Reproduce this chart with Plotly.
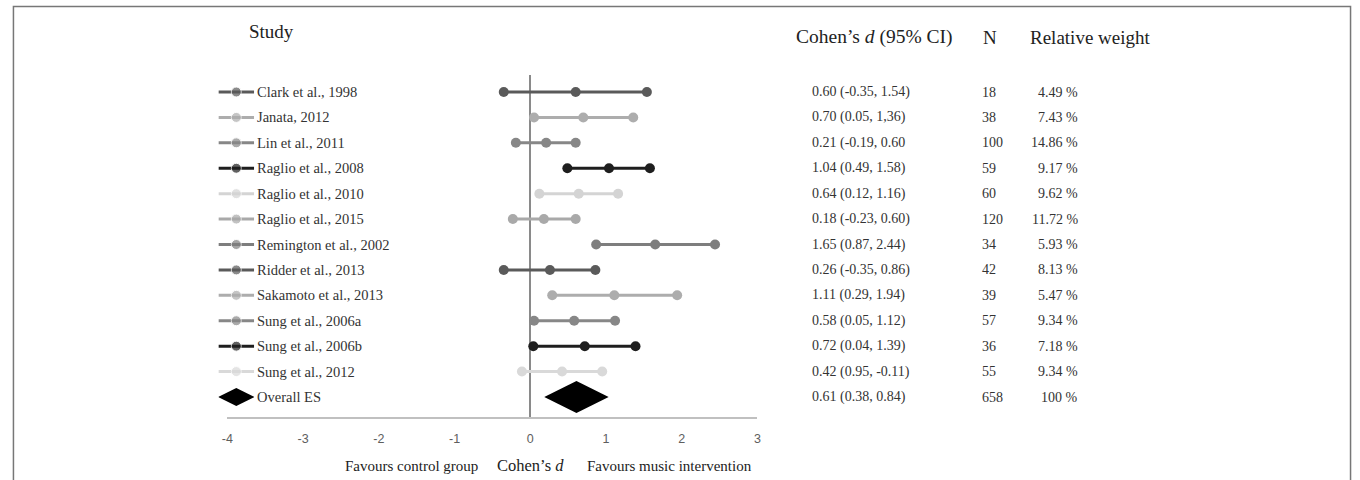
import plotly.graph_objects as go

W, H = 1360, 480

studies = ["Clark et al., 1998", "Janata, 2012", "Lin et al., 2011", "Raglio et al., 2008",
           "Raglio et al., 2010", "Raglio et al., 2015", "Remington et al., 2002",
           "Ridder et al., 2013", "Sakamoto et al., 2013", "Sung et al., 2006a",
           "Sung et al., 2006b", "Sung et al., 2012"]
est = [0.60, 0.70, 0.21, 1.04, 0.64, 0.18, 1.65, 0.26, 1.11, 0.58, 0.72, 0.42]
lo = [-0.35, 0.05, -0.19, 0.49, 0.12, -0.23, 0.87, -0.35, 0.29, 0.05, 0.04, -0.11]
hi = [1.54, 1.36, 0.60, 1.58, 1.16, 0.60, 2.44, 0.86, 1.94, 1.12, 1.39, 0.95]
ci_text = ["0.60 (-0.35, 1.54)", "0.70 (0.05, 1,36)", "0.21 (-0.19, 0.60", "1.04 (0.49, 1.58)",
           "0.64 (0.12, 1.16)", "0.18 (-0.23, 0.60)", "1.65 (0.87, 2.44)", "0.26 (-0.35, 0.86)",
           "1.11 (0.29, 1.94)", "0.58 (0.05, 1.12)", "0.72 (0.04, 1.39)", "0.42 (0.95, -0.11)"]
n_vals = [18, 38, 100, 59, 60, 120, 34, 42, 39, 57, 36, 55]
weights = ["4.49 %", "7.43 %", "14.86 %", "9.17 %", "9.62 %", "11.72 %", "5.93 %",
           "8.13 %", "5.47 %", "9.34 %", "7.18 %", "9.34 %"]
colors = ["#5a5a5a", "#adadad", "#878787", "#1e1e1e", "#d4d4d4", "#a9a9a9",
          "#7e7e7e", "#5a5a5a", "#adadad", "#878787", "#1e1e1e", "#d9d9d9"]

overall_label = "Overall ES"
overall_est = 0.61
overall_ci_text = "0.61 (0.38, 0.84)"
overall_n = 658
overall_weight = "100 %"

x_ticks = [-4, -3, -2, -1, 0, 1, 2, 3]
x_ticktext = ["-4", "-3", "-2", "-1", "0", "1", "2", "3"]

SERIF = "Liberation Serif"
SANS = "Liberation Sans"


def px(x):
    return x / W


def py(y):
    return 1 - y / H


fig = go.Figure()

overall_row = len(studies)

for i, s in enumerate(studies):
    fig.add_trace(go.Scatter(
        x=[lo[i], est[i], hi[i]], y=[i, i, i], mode="lines+markers",
        line=dict(color=colors[i], width=3), marker=dict(color=colors[i], size=10),
        showlegend=False, hoverinfo="skip", xaxis="x", yaxis="y"))
    # legend-like key on the left
    fig.add_trace(go.Scatter(
        x=[0, 1, 2], y=[i, i, i], mode="lines+markers",
        line=dict(color=colors[i], width=3), marker=dict(color=colors[i], size=[0, 10, 0]),
        showlegend=False, hoverinfo="skip", xaxis="x2", yaxis="y"))

fig.add_trace(go.Scatter(
    x=[overall_est], y=[overall_row], mode="markers",
    marker=dict(symbol="diamond-wide", color="black", size=46, line=dict(width=0)),
    showlegend=False, hoverinfo="skip", xaxis="x", yaxis="y"))
fig.add_trace(go.Scatter(
    x=[1], y=[overall_row], mode="markers",
    marker=dict(symbol="diamond-wide", color="black", size=26, line=dict(width=0)),
    showlegend=False, hoverinfo="skip", xaxis="x2", yaxis="y"))

annotations = []
labels = studies + [overall_label]
cis = ci_text + [overall_ci_text]
ns = n_vals + [overall_n]
ws = weights + [overall_weight]
TXT = "#333333"
for i in range(len(labels)):
    annotations.append(dict(x=px(251), y=i, xref="paper", yref="y", text=labels[i],
                            showarrow=False, xanchor="left", yanchor="middle",
                            font=dict(family=SERIF, size=14.5, color=TXT)))
    annotations.append(dict(x=px(810), y=i, xref="paper", yref="y", text=cis[i],
                            showarrow=False, xanchor="left", yanchor="middle",
                            font=dict(family=SERIF, size=14, color=TXT)))
    annotations.append(dict(x=px(981), y=i, xref="paper", yref="y", text=str(ns[i]),
                            showarrow=False, xanchor="left", yanchor="middle",
                            font=dict(family=SERIF, size=14, color=TXT)))
    annotations.append(dict(x=px(1082), y=i, xref="paper", yref="y", text=ws[i],
                            showarrow=False, xanchor="right", yanchor="middle",
                            font=dict(family=SERIF, size=14, color=TXT)))

# headers
HDR = "#222222"
annotations += [
    dict(x=px(243), y=py(32), xref="paper", yref="paper", text="Study", showarrow=False,
         xanchor="left", yanchor="middle", font=dict(family=SERIF, size=19, color=HDR)),
    dict(x=px(794), y=py(37), xref="paper", yref="paper", text="Cohen’s <i>d</i> (95% CI)",
         showarrow=False, xanchor="left", yanchor="middle",
         font=dict(family=SERIF, size=19.5, color=HDR)),
    dict(x=px(982), y=py(37), xref="paper", yref="paper", text="N", showarrow=False,
         xanchor="left", yanchor="middle", font=dict(family=SERIF, size=19, color=HDR)),
    dict(x=px(1030), y=py(37), xref="paper", yref="paper", text="Relative weight",
         showarrow=False, xanchor="left", yanchor="middle",
         font=dict(family=SERIF, size=19, color=HDR)),
    dict(x=px(408), y=py(466), xref="paper", yref="paper", text="Favours control group",
         showarrow=False, xanchor="center", yanchor="middle",
         font=dict(family=SERIF, size=15, color=HDR)),
    dict(x=px(528), y=py(465), xref="paper", yref="paper", text="Cohen’s <i>d</i>",
         showarrow=False, xanchor="center", yanchor="middle",
         font=dict(family=SERIF, size=16.5, color=HDR)),
    dict(x=px(668), y=py(466), xref="paper", yref="paper", text="Favours music intervention",
         showarrow=False, xanchor="center", yanchor="middle",
         font=dict(family=SERIF, size=15, color=HDR)),
]

# y mapping: row 0 at pixel 92, spacing ~25.4; plot top 75, bottom 417
spacing = (397 - 92) / 12
y_top = (75 - 92) / spacing
y_bot = (417 - 92) / spacing

fig.update_layout(
    width=W, height=H,
    margin=dict(l=0, r=0, t=0, b=0),
    paper_bgcolor="white", plot_bgcolor="white",
    showlegend=False,
    annotations=annotations,
    xaxis=dict(domain=[px(223), px(757)], range=[-4, 3], tickvals=x_ticks,
               ticktext=x_ticktext,
               showgrid=False, zeroline=True, zerolinecolor="#8a8a8a", zerolinewidth=1.5,
               showline=True, linecolor="#c0c0c0", linewidth=1.5,
               ticks="outside", ticklen=9, tickcolor="rgba(0,0,0,0)",
               tickfont=dict(family=SANS, size=12.5, color="#5e5e5e"),
               anchor="y", fixedrange=True),
    xaxis2=dict(domain=[px(214), px(250)], range=[0, 2], visible=False, anchor="y",
                fixedrange=True),
    yaxis=dict(domain=[py(417), py(75)], range=[y_bot, y_top], visible=False,
               fixedrange=True),
    shapes=[dict(type="rect", xref="paper", yref="paper", x0=px(7.5), x1=px(1354.5),
                 y0=-0.05, y1=py(6.5), line=dict(color="#777777", width=1.5),
                 fillcolor="rgba(0,0,0,0)", layer="above")],
)

fig.write_html("out.html",
               config={"displayModeBar": False},
               post_script="document.body.style.margin='0px';"
                           "document.body.style.overflow='hidden';")
